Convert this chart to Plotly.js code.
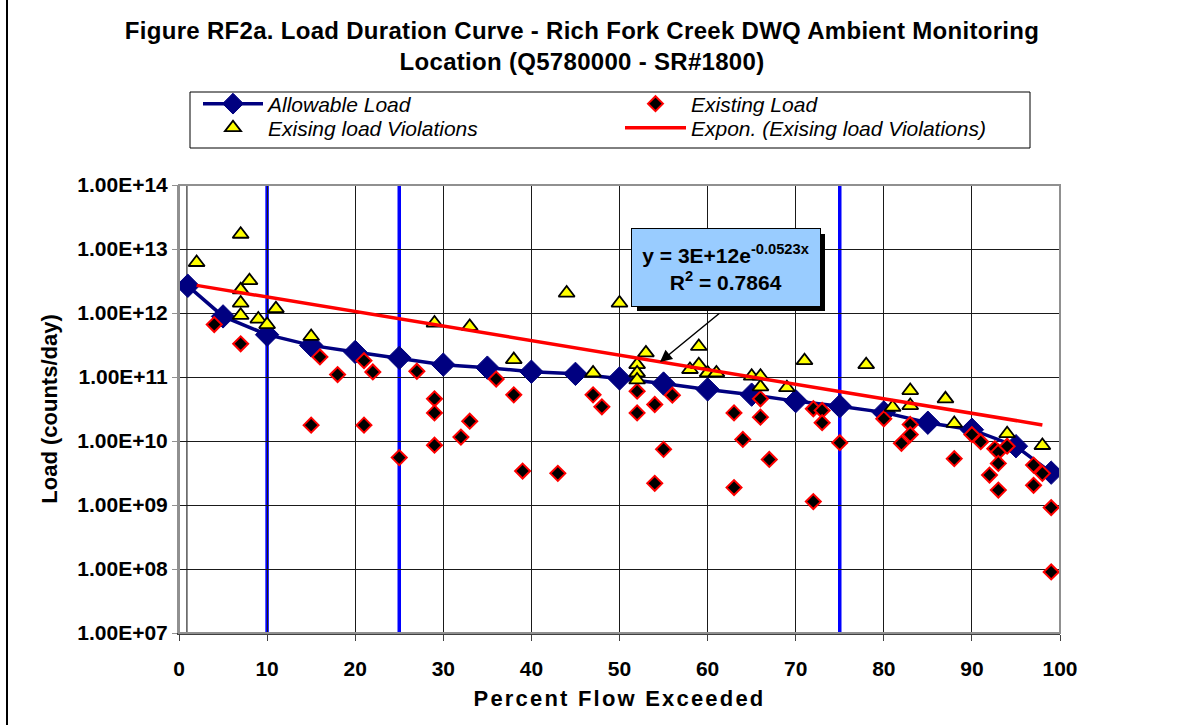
<!DOCTYPE html>
<html>
<head>
<meta charset="utf-8">
<script src="https://cdn.plot.ly/plotly-3.0.1.min.js"></script>
<style>
  html, body { margin: 0; padding: 0; background: #ffffff; }
  #chart { width: 1187px; height: 725px; }
  /* wider tracking on captions */
  #chart .xtitle { letter-spacing: 2.2px; }
  #chart .gtitle { letter-spacing: 0.3px; }
</style>
</head>
<body>
<div id="chart"></div>
<script>
// Allowable load curve (counts/day) by percent flow exceeded
const allowableX = [1, 5, 10, 15, 20, 25, 30, 35, 40, 45, 50, 55, 60, 65, 70, 75, 80, 85, 90, 95, 99];
const allowableY = [2.66e12, 8.85e11, 4.58e11, 3.12e11, 2.46e11, 1.99e11, 1.56e11, 1.40e11, 1.21e11, 1.12e11,
                    9.5e10, 7.9e10, 6.4e10, 5.3e10, 4.2e10, 3.5e10, 2.8e10, 1.93e10, 1.5e10, 8.3e9, 3.2e9];

// Existing loads below the allowable curve
const existingX = [4, 7, 15, 16, 18, 21, 21, 22, 25, 27, 29, 29, 29, 32, 33, 36, 38, 39, 43, 47,
                   48, 52, 52, 54, 54, 55, 56, 63, 63, 64, 66, 66, 67, 72, 72, 73, 73, 75, 80, 82,
                   83, 83, 88, 90, 91, 92.6, 93, 94, 93, 92, 93, 97, 98, 97, 99, 99];
const existingY = [6.6e11, 3.3e11, 1.77e10, 2.06e11, 1.09e11, 1.80e11, 1.77e10, 1.20e11, 5.5e9, 1.23e11,
                   4.56e10, 2.75e10, 8.6e9, 1.15e10, 2.04e10, 9.3e10, 5.26e10, 3.39e9, 3.12e9, 5.26e10,
                   3.42e10, 6.0e10, 2.75e10, 3.72e10, 2.18e9, 7.4e9, 5.2e10, 2.75e10, 1.87e9, 1.06e10,
                   4.56e10, 2.36e10, 5.15e9, 3.19e10, 1.13e9, 3.0e10, 1.93e10, 9.4e9, 2.22e10, 9.2e9,
                   1.81e10, 1.26e10, 5.3e9, 1.26e10, 9.75e9, 7.6e9, 6.7e9, 8.3e9, 4.47e9, 2.94e9,
                   1.71e9, 4.2e9, 3.12e9, 2.03e9, 9.1e8, 9.0e7];

// Existing loads that exceed the allowable curve
const violationX = [2, 7, 8, 7, 7, 7, 9, 10, 11, 15, 29, 33, 38, 44, 50, 47, 52, 52, 52, 53,
                    58, 59, 59, 60, 61, 65, 66, 66, 69, 71, 78, 81, 83, 83, 87, 88, 94, 98];
const violationY = [6.15e12, 1.70e13, 3.2e12, 2.3e12, 1.43e12, 9.2e11, 8.05e11, 6.6e11, 1.17e12, 4.3e11,
                    6.97e11, 6.17e11, 1.87e11, 2.05e12, 1.43e12, 1.16e11, 1.56e11, 1.16e11, 9.0e10, 2.38e11,
                    1.31e11, 3.0e11, 1.56e11, 1.16e11, 1.16e11, 1.03e11, 1.03e11, 7.0e10, 6.8e10, 1.80e11,
                    1.56e11, 3.37e10, 6.14e10, 3.58e10, 4.56e10, 1.88e10, 1.3e10, 8.5e9];

// Exponential trendline of the violations, as stated in its equation label
const trendA = 3e12;
const trendB = -0.0523;
const trendR2 = 0.7864;
const trendStart = 2;
const trendEnd = 98;

// Flow-regime boundaries (percent flow exceeded)
const flowZones = [10, 25, 75];
const startMark = [0.9];

// Axis ticks
const yTickVals = [1e7, 1e8, 1e9, 1e10, 1e11, 1e12, 1e13, 1e14];
const yTickText = ['1.00E+07', '1.00E+08', '1.00E+09', '1.00E+10', '1.00E+11', '1.00E+12', '1.00E+13', '1.00E+14'];

const trendX = [];
const trendY = [];
for (let x = trendStart; x <= trendEnd; x += 1) {
  trendX.push(x);
  trendY.push(trendA * Math.exp(trendB * x));
}

const FONT = 'Liberation Sans, Arial, sans-serif';
const legendFont = { family: FONT, size: 21, style: 'italic', color: '#000000' };

const traces = [
  {
    name: 'Allowable Load', x: allowableX, y: allowableY, type: 'scatter', mode: 'lines+markers',
    line: { color: '#000080', width: 3.5 },
    marker: { symbol: 'diamond', size: 18, color: '#000080', line: { color: '#000080', width: 1 } },
    legend: 'legend'
  },
  {
    name: 'Existing Load', x: existingX, y: existingY, type: 'scatter', mode: 'markers',
    marker: { symbol: 'diamond', size: 11.5, color: '#000000', line: { color: '#FF0000', width: 2 } },
    legend: 'legend2'
  },
  {
    name: 'Exising load Violations', x: violationX, y: violationY, type: 'scatter', mode: 'markers',
    marker: { symbol: 'triangle-up', size: 14, color: '#FFFF00', line: { color: '#000000', width: 1.8 } },
    legend: 'legend3'
  },
  {
    name: 'Expon. (Exising load Violations)', x: trendX, y: trendY, type: 'scatter', mode: 'lines',
    line: { color: '#FF0000', width: 3.5 },
    legend: 'legend4'
  }
];

// plot area in pixels: x 179..1060, y 185..633
const PL = 179, PR = 1060, PT = 185, PB = 633;
const px2paperX = p => (p - PL) / (PR - PL);
const px2paperY = p => (PB - p) / (PB - PT);

function legendAt(xpx, ypx, iw) {
  return {
    x: px2paperX(xpx), y: px2paperY(ypx), xanchor: 'left', yanchor: 'middle',
    xref: 'paper', yref: 'paper', bgcolor: 'rgba(0,0,0,0)', borderwidth: 0,
    font: legendFont, itemwidth: iw, orientation: 'v'
  };
}

const shapes = [];
flowZones.forEach(v => shapes.push({
  type: 'line', xref: 'x', yref: 'paper', x0: v, x1: v, y0: 0, y1: 1,
  line: { color: '#0000FF', width: 3.5 }, layer: 'between'
}));
startMark.forEach(v => shapes.push({
  type: 'line', xref: 'x', yref: 'paper', x0: v, x1: v, y0: 0, y1: 1,
  line: { color: '#000000', width: 1 }, layer: 'between'
}));
// plot area frame
shapes.push({
  type: 'rect', xref: 'paper', yref: 'paper', x0: 0, x1: 1, y0: 0, y1: 1,
  line: { color: '#909090', width: 2 }, fillcolor: 'rgba(0,0,0,0)', layer: 'above'
});
// legend frame
shapes.push({
  type: 'rect', xref: 'paper', yref: 'paper',
  x0: px2paperX(190), x1: px2paperX(1030), y0: px2paperY(148), y1: px2paperY(92),
  line: { color: '#000000', width: 1 }, fillcolor: '#FFFFFF', layer: 'below'
});
// chart frame edge
shapes.push({
  type: 'line', xref: 'paper', yref: 'paper',
  x0: px2paperX(7), x1: px2paperX(7), y0: px2paperY(725), y1: px2paperY(0),
  line: { color: '#000000', width: 2 }
});
// equation box: shadow then box
const boxL = 632, boxR = 820, boxT = 229, boxB = 306, shadowOff = 5;
shapes.push({
  type: 'rect', xref: 'paper', yref: 'paper',
  x0: px2paperX(boxL + shadowOff), x1: px2paperX(boxR + shadowOff),
  y0: px2paperY(boxB + shadowOff), y1: px2paperY(boxT + shadowOff),
  line: { width: 0 }, fillcolor: '#000000', layer: 'above'
});

const eqFont = { family: FONT, size: 21, color: '#000000', weight: 'bold' };
const eqText = 'y = 3E+12e<sup>' + (trendB).toString() + 'x</sup><br>R<sup>2</sup> = ' + trendR2.toFixed(4);

const annotations = [
  {
    xref: 'paper', yref: 'paper', x: px2paperX((boxL + boxR) / 2), y: px2paperY((boxT + boxB) / 2),
    xanchor: 'center', yanchor: 'middle',
    text: eqText, font: eqFont, width: boxR - boxL - 2, height: boxB - boxT - 2, showarrow: false,
    bgcolor: '#99CCFF', bordercolor: '#000000', borderwidth: 1, align: 'center', valign: 'middle'
  },
  {
    xref: 'paper', yref: 'paper', x: px2paperX(660), y: px2paperY(362),
    ax: 61, ay: -50, text: '', showarrow: true, arrowhead: 2, arrowsize: 1.6,
    arrowwidth: 1.5, arrowcolor: '#000000'
  }
];

const layout = {
  width: 1187, height: 725,
  margin: { l: PL, r: 1187 - PR, t: PT, b: 725 - PB, pad: 0 },
  paper_bgcolor: '#FFFFFF', plot_bgcolor: '#FFFFFF',
  font: { family: FONT, color: '#000000' },
  title: {
    text: 'Figure RF2a. Load Duration Curve - Rich Fork Creek DWQ Ambient Monitoring<br>Location (Q5780000 - SR#1800)',
    font: { family: FONT, size: 24, weight: 'bold', color: '#000000' },
    x: 582 / 1187, xref: 'container', xanchor: 'center',
    y: 1 - 39 / 725, yref: 'container', yanchor: 'top'
  },
  xaxis: {
    range: [0, 100], tick0: 0, dtick: 10, showgrid: true, gridcolor: '#1a1a1a', gridwidth: 1,
    zeroline: false, ticks: 'outside', ticklen: 6, tickcolor: '#404040', tickwidth: 1,
    showline: true, linecolor: '#404040', linewidth: 1.5, ticklabelstandoff: 10,
    tickfont: { family: FONT, size: 21, weight: 'bold', color: '#000000' },
    title: { text: 'Percent Flow Exceeded', font: { family: FONT, size: 22, weight: 'bold', color: '#000000' }, standoff: 12 }
  },
  yaxis: {
    type: 'log', range: [7, 14], tickvals: yTickVals, ticktext: yTickText,
    showgrid: true, gridcolor: '#1a1a1a', gridwidth: 1, zeroline: false,
    ticks: 'outside', ticklen: 5, tickcolor: '#909090', showline: true, linecolor: '#909090', linewidth: 2,
    tickfont: { family: FONT, size: 21, weight: 'bold', color: '#000000' },
    title: { text: 'Load (counts/day)', font: { family: FONT, size: 22, weight: 'bold', color: '#000000' }, standoff: 14 }
  },
  showlegend: true,
  legend: legendAt(198, 104, 60),
  legend2: legendAt(620, 104, 61),
  legend3: legendAt(198, 128, 60),
  legend4: legendAt(620, 128, 61),
  shapes: shapes,
  annotations: annotations
};

Plotly.newPlot('chart', traces, layout, { displayModeBar: false, staticPlot: true });
</script>
</body>
</html>
